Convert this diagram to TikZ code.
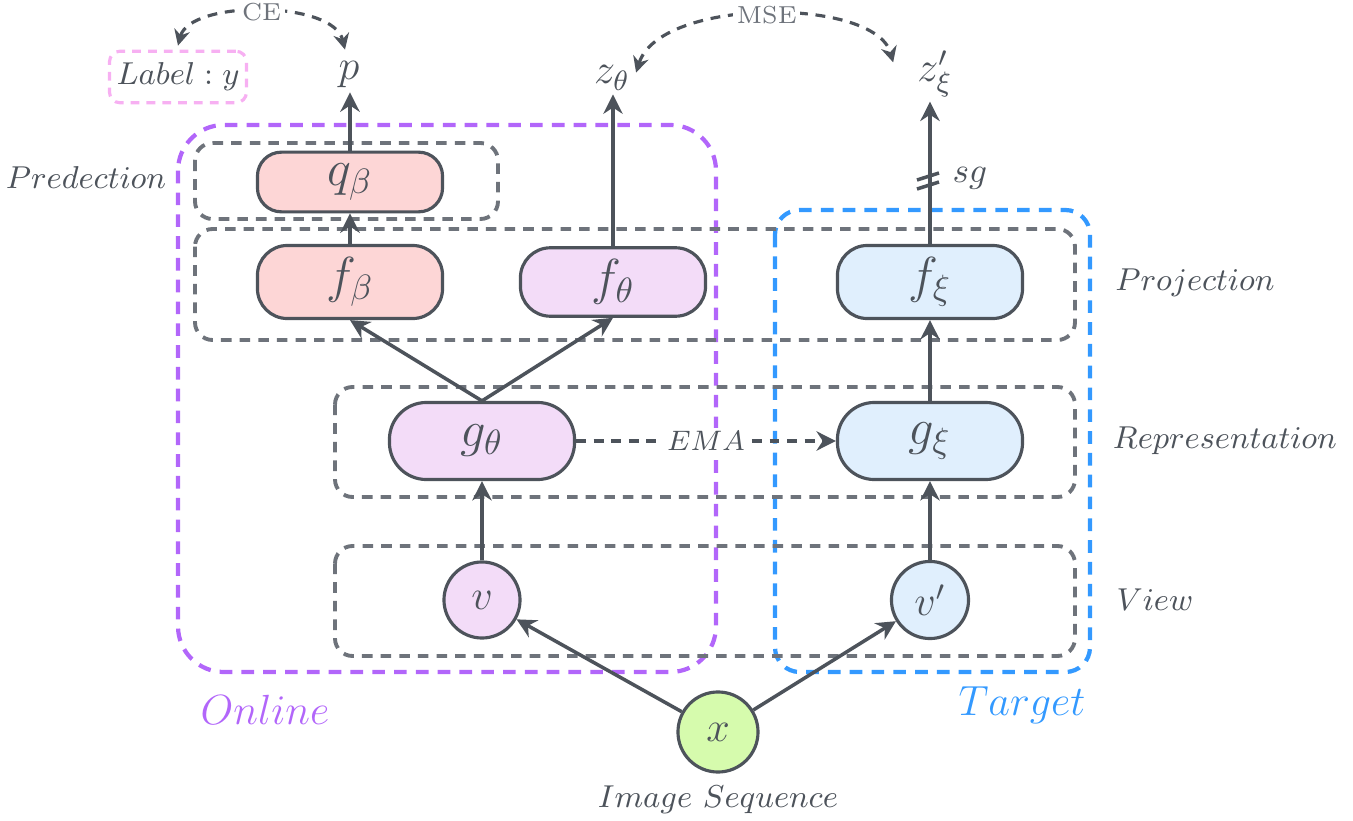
\documentclass[tikz,border=0pt]{standalone}
\usepackage{tikz}
\usetikzlibrary{arrows.meta, positioning, calc}
\definecolor{linegray}{RGB}{77,83,91}
\definecolor{boxgray}{RGB}{110,115,123}
\definecolor{onlinepurple}{RGB}{178,102,250}
\definecolor{targetblue}{RGB}{51,153,255}
\definecolor{labelpink}{RGB}{247,176,242}
\definecolor{predpink}{RGB}{253,214,214}
\definecolor{onlinefill}{RGB}{243,220,248}
\definecolor{targetfill}{RGB}{224,239,253}
\definecolor{inputgreen}{RGB}{214,251,173}
\tikzset{
  block/.style={draw=linegray, line width=0.9pt, rounded corners=8.5pt, minimum width=1.85cm, minimum height=0.62cm, font=\Large, text=linegray},
  encblock/.style={block, rounded corners=10.5pt, minimum height=0.77cm},
  viewnode/.style={circle, draw=linegray, line width=0.9pt, minimum size=0.76cm, font=\large, text=linegray},
  grpbox/.style={draw=boxgray, line width=1.1pt, dash pattern=on 3pt off 2.3pt, rounded corners=5pt},
  sidelabel/.style={font=\small, text=linegray},
  outlabel/.style={font=\large, text=linegray, inner sep=1pt},
  arr/.style={-{Stealth[length=5.5pt,width=5.5pt]}, line width=1pt, draw=linegray},
  lossarr/.style={{Stealth[length=4.5pt,width=4.5pt]}-{Stealth[length=4.5pt,width=4.5pt]}, line width=0.9pt, draw=linegray, dash pattern=on 2.8pt off 2.2pt},
}
\begin{document}
\begin{tikzpicture}[x=0.01cm, y=-0.01cm]
    \useasboundingbox (0,0) rectangle (1353,821);
    % Online and target branches
    \draw[onlinepurple, line width=1.2pt, dash pattern=on 3.6pt off 2.6pt, rounded corners=13pt] (178,125) rectangle (716,672);
    \draw[targetblue, line width=1.2pt, dash pattern=on 3.6pt off 2.6pt, rounded corners=7pt] (775,210) rectangle (1090,672);
    % Stages
    \draw[grpbox] (195,143) rectangle (498,219);
    \draw[grpbox] (195,229) rectangle (1075,340);
    \draw[grpbox] (335,387) rectangle (1075,497);
    \draw[grpbox] (335,546) rectangle (1075,656);

    \node[sidelabel] (predlbl) at (86,178) {$Predection$};
    \node[sidelabel] (projlbl) at (1195,283) {$Projection$};
    \node[sidelabel] (replbl) at (1225,441) {$Representation$};
    \node[sidelabel] (viewlbl) at (1155,600) {$View$};
    \node[font=\large, text=onlinepurple] (onlinelbl) at (265,710) {$Online$};
    \node[font=\large, text=targetblue] (targetlbl) at (1022,705) {$Target$};

    % Nodes
    \node[viewnode, fill=inputgreen, minimum size=0.8cm] (x) at (718,732) {$x$};
    \node[sidelabel] (seqlbl) at (718,800) {$Image\ Sequence$};
    \node[viewnode, fill=onlinefill] (v) at (482,600) {$v$};
    \node[viewnode, fill=targetfill] (vp) at (930,600) {$v'$};
    \node[encblock, fill=onlinefill] (gt) at (482,441) {$g_\theta$};
    \node[encblock, fill=targetfill] (gx) at (930,441) {$g_\xi$};
    \node[block, fill=predpink] (fb) at (350,282) {$f_\beta$};
    \node[block, fill=onlinefill] (ft) at (613,282) {$f_\theta$};
    \node[block, fill=targetfill] (fx) at (930,282) {$f_\xi$};
    \node[block, fill=predpink, minimum height=0.5cm, rounded corners=6.8pt] (qb) at (350,182) {$q_\beta$};

    % Outputs
    \node[outlabel] (p) at (349,75) {$p$};
    \node[outlabel] (zt) at (612,78) {$z_\theta$};
    \node[outlabel] (zx) at (935,74) {$z'_\xi$};
    \node[sidelabel, draw=labelpink, line width=0.9pt, dash pattern=on 2.5pt off 2pt, rounded corners=3pt, inner xsep=2pt, minimum width=1.34cm, minimum height=0.39cm] (lab) at (178,77) {$Label: y$};

    % Connectors
    \draw[arr] (x) -- (v);
    \draw[arr] (x) -- (vp);
    \draw[arr] (v) -- (gt);
    \draw[arr] (vp) -- (gx);
    \draw[arr] (gt.north) -- (fb.south);
    \draw[arr] (gt.north) -- (ft.south);
    \draw[arr] (gx) -- (fx);
    \draw[arr] (fb) -- (qb);
    \draw[arr] (qb.north) -- (p.south -| qb.north);
    \draw[arr] (ft.north) -- (zt.south -| ft.north);
    \draw[arr] (fx.north) -- (zx.south -| fx.north);
    \draw[arr, dash pattern=on 2.8pt off 2.2pt] (gt) -- node[fill=white, inner sep=1pt, font=\footnotesize, text=linegray] (ema) {$EMA$} (gx);

    % Stop gradient
    \coordinate (sgm) at (928,177);
    \draw[linegray, line width=1pt] ($(sgm)+(-11,3)$) -- ++(22,-7);
    \draw[linegray, line width=1pt] ($(sgm)+(-11,12)$) -- ++(22,-7);
    \node[sidelabel, font=\normalsize] (sg) at (970,178) {$sg$};

    % Losses
    \draw[lossarr] ([yshift=0.04cm]lab.north) .. controls (190,0) and (333,0) .. ([xshift=-0.04cm,yshift=0.08cm]p.north) node[pos=0.5, fill=white, inner sep=1pt, font=\scriptsize, text=boxgray] (ce) {CE};
    \draw[lossarr] ([xshift=0.02cm,yshift=-0.11cm]zt.north east) .. controls (660,-3) and (875,-3) .. ([xshift=-0.2cm,yshift=-0.16cm]zx.north west) node[pos=0.5, fill=white, inner sep=1pt, font=\scriptsize, text=boxgray] (mse) {MSE};
\end{tikzpicture}
\end{document}
